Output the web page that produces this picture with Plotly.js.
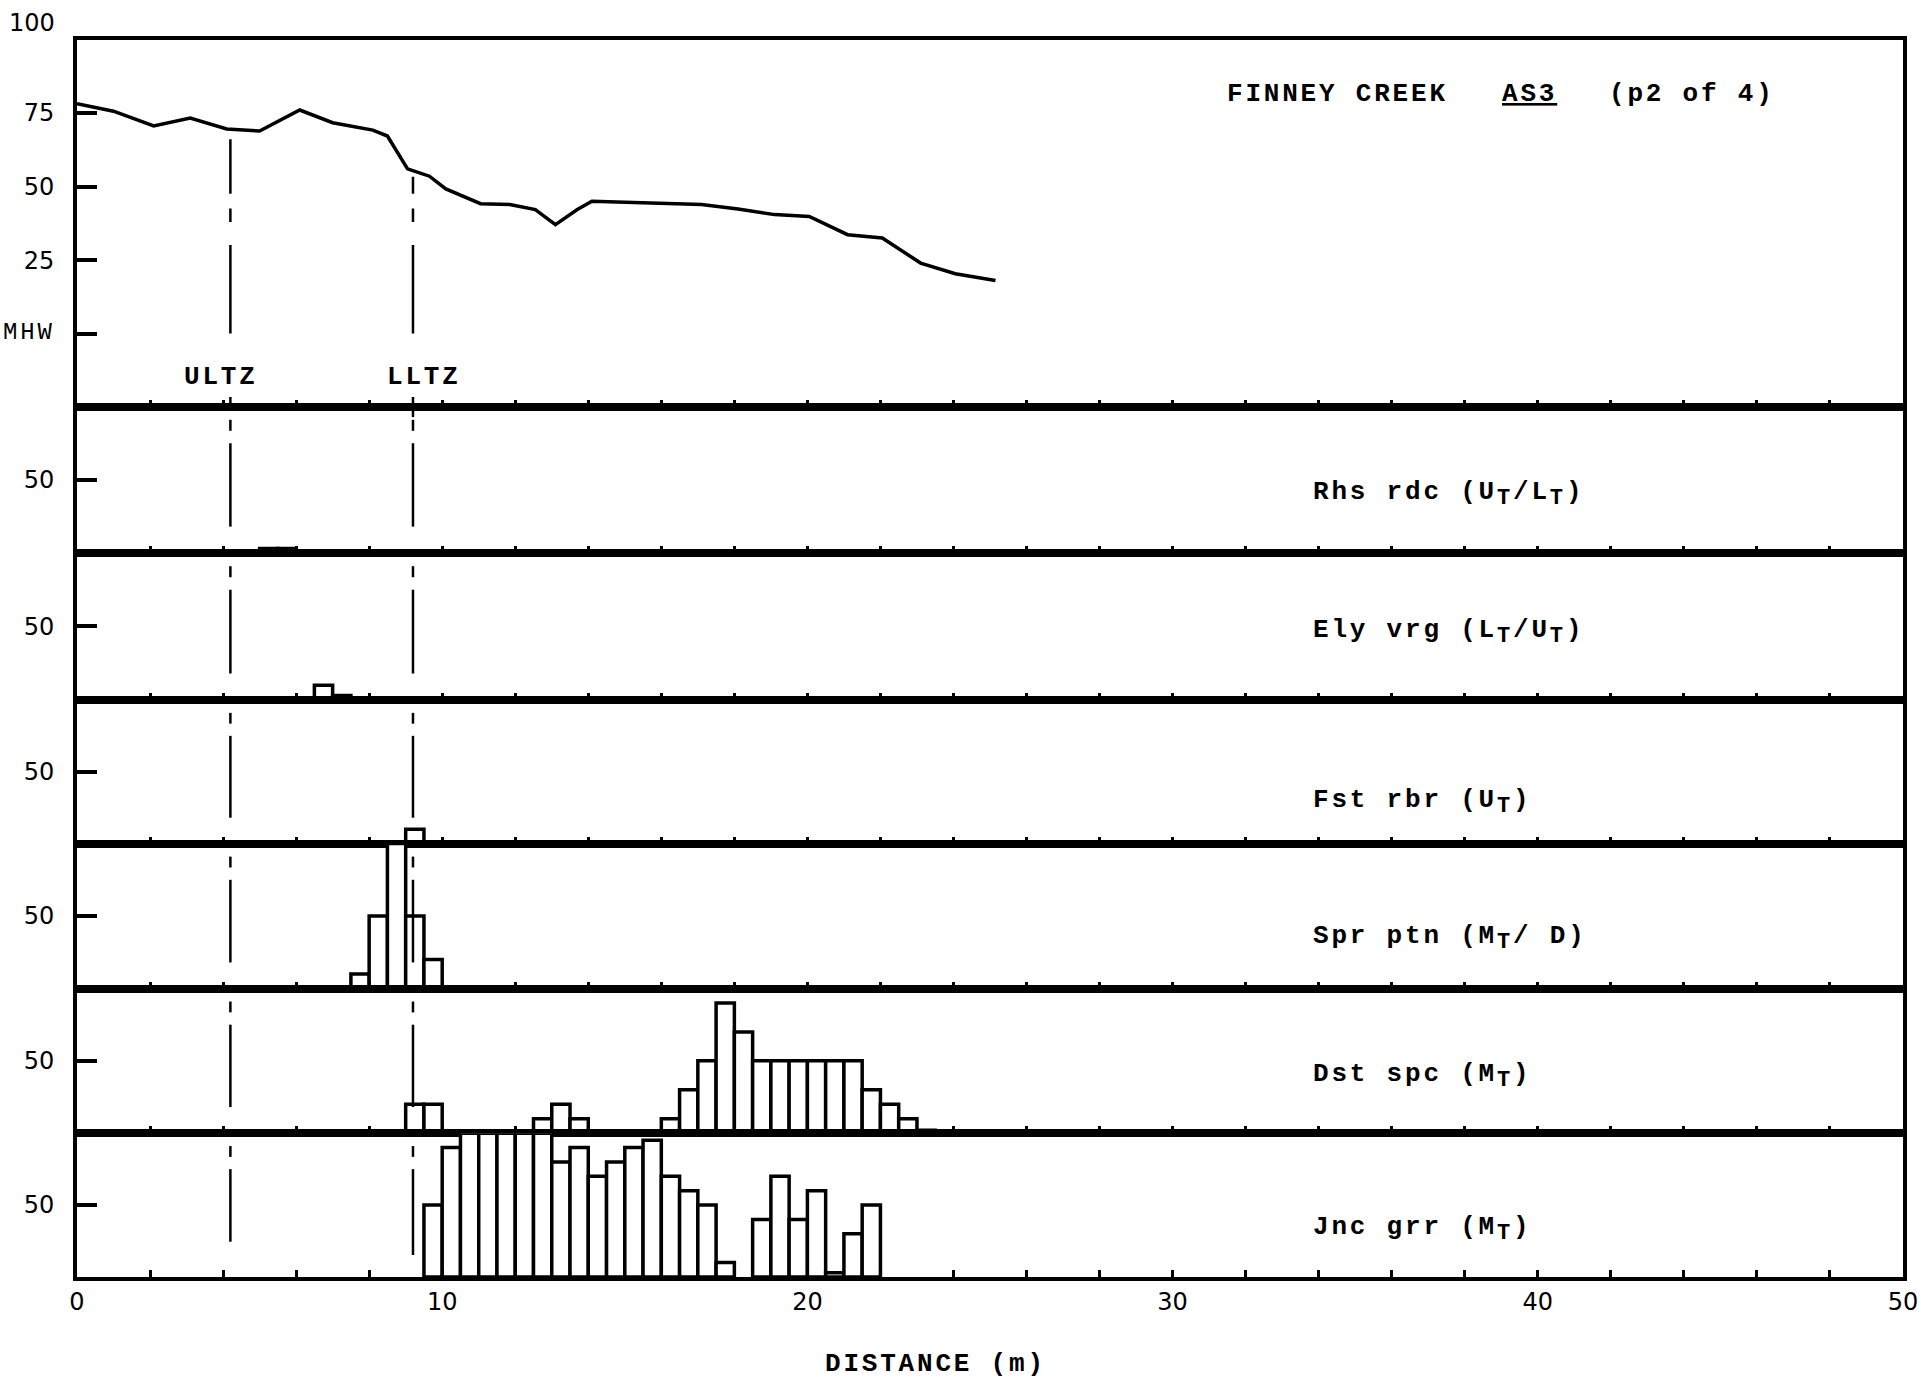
<!DOCTYPE html>
<html>
<head>
<meta charset="utf-8">
<script src="https://cdn.plot.ly/plotly-3.0.1.min.js"></script>
<style>
  html, body { margin: 0; padding: 0; background: #ffffff; }
  #chart { width: 1921px; height: 1380px; }
</style>
</head>
<body>
<div id="chart"></div>
<script>
// Marsh surface profile along transect AS3 (height scale relative to MHW)
const profileDistance = [0, 1.0, 2.1, 3.1, 4.1, 5.0, 6.1, 7.0, 8.1, 8.5, 9.05, 9.65, 10.1, 11.05, 11.85, 12.55, 13.1, 13.7, 14.1, 15.3, 17.1, 18.1, 19.1, 20.05, 21.1, 22.05, 23.1, 24.05, 25.15];
const profileHeight = [78, 75.5, 70.5, 73.2, 69.5, 68.8, 75.9, 71.6, 69.1, 67.1, 56, 53.5, 49.2, 44.2, 43.9, 42.2, 37.1, 42.2, 45, 44.5, 43.9, 42.4, 40.5, 39.9, 33.7, 32.6, 24.1, 20.5, 18.2];

// Zone boundaries (m)
const zoneNames = ['ULTZ', 'LLTZ'];
const zoneDistance = [4.2, 9.2];

// Species and their zone codes
const T = '<sub><span style="font-size:22px">T</span></sub>';
const speciesNames = ['Rhs rdc', 'Ely vrg', 'Fst rbr', 'Spr ptn', 'Dst spc', 'Jnc grr'];
const speciesZones = ['(U' + T + '/L' + T + ')', '(L' + T + '/U' + T + ')', '(U' + T + ')', '(M' + T + '/ D)', '(M' + T + ')', '(M' + T + ')'];

// Percent cover in 0.5 m quadrats (x = quadrat midpoint, m)
const rhsDistance = [5.25, 5.75];
const rhsCover = [3, 3];
const elyDistance = [6.75, 7.25];
const elyCover = [10, 3];
const fstDistance = [9.25];
const fstCover = [10];
const sprDistance = [7.75, 8.25, 8.75, 9.25, 9.75];
const sprCover = [10, 50, 100, 50, 20];
const dstDistance = [9.25, 9.75, 12.75, 13.25, 13.75, 16.25, 16.75, 17.25, 17.75, 18.25, 18.75, 19.25, 19.75, 20.25, 20.75, 21.25, 21.75, 22.25, 22.75, 23.25];
const dstCover = [20, 20, 10, 20, 10, 10, 30, 50, 90, 70, 50, 50, 50, 50, 50, 50, 30, 20, 10, 2];
const jncDistance = [9.75, 10.25, 10.75, 11.25, 11.75, 12.25, 12.75, 13.25, 13.75, 14.25, 14.75, 15.25, 15.75, 16.25, 16.75, 17.25, 17.75, 18.75, 19.25, 19.75, 20.25, 20.75, 21.25, 21.75];
const jncCover = [50, 90, 100, 100, 100, 100, 100, 80, 90, 70, 80, 90, 95, 70, 60, 50, 10, 40, 70, 40, 60, 3, 30, 50];

// Tick labels (the MHW datum is lettered separately)
const profileTickVals = [0, 25, 50, 75];
const profileTickText = ['', '25', '50', '75'];
const coverTickVals = [50];
const coverTickText = ['50'];

const coverDistance = [rhsDistance, elyDistance, fstDistance, sprDistance, dstDistance, jncDistance];
const coverValues = [rhsCover, elyCover, fstCover, sprCover, dstCover, jncCover];

const INK = '#000000';
const numFont = { family: 'DejaVu Sans, Liberation Sans, sans-serif', size: 24, color: INK };
const typeFont = { family: 'Liberation Mono, DejaVu Sans Mono, monospace', size: 26, color: INK, weight: 700 };
// typewriter pitch for the lettering
const typed = s => '<span style="letter-spacing:2.8px">' + s + '</span>';

// Stacked panels: profile on top, then six cover histograms
const domains = [[0.7036, 1], [0.5853, 0.7036], [0.4665, 0.5853], [0.3504, 0.4665], [0.2332, 0.3504], [0.1163, 0.2332], [0, 0.1163]];
const axId = i => (i === 0 ? '' : String(i + 1));

const traces = [{
  type: 'scatter', mode: 'lines',
  x: profileDistance, y: profileHeight,
  xaxis: 'x', yaxis: 'y',
  line: { color: INK, width: 3.5 },
  hoverinfo: 'skip', showlegend: false
}];

coverValues.forEach((vals, k) => {
  const id = axId(k + 1);
  traces.push({
    type: 'bar',
    x: coverDistance[k], y: vals,
    width: 0.5,
    xaxis: 'x' + id, yaxis: 'y' + id,
    marker: { color: '#ffffff', line: { color: INK, width: 3.5 } },
    hoverinfo: 'skip', showlegend: false
  });
});

const layout = {
  width: 1921, height: 1380,
  margin: { l: 77, r: 18, t: 40, b: 103 },
  paper_bgcolor: '#ffffff', plot_bgcolor: '#ffffff',
  showlegend: false,
  font: numFont,
  annotations: [],
  shapes: []
};

for (let i = 0; i < 7; i++) {
  const id = axId(i);
  layout['xaxis' + id] = {
    domain: [0, 1], anchor: 'y' + id, range: [0, 50],
    showline: true, linewidth: 4, linecolor: INK, mirror: true,
    showgrid: false, zeroline: false,
    ticks: 'inside', ticklen: 7, tickwidth: 3, tickcolor: INK,
    tick0: 0, dtick: 10,
    minor: { dtick: 2, ticks: 'inside', ticklen: 7, tickwidth: 3, tickcolor: INK, showgrid: false },
    showticklabels: i === 6,
    tickfont: numFont,
    fixedrange: true
  };
  if (i > 0) layout['xaxis' + id].matches = 'x';
  layout['yaxis' + id] = {
    domain: domains[i], anchor: 'x' + id,
    range: i === 0 ? [-24.5, 99.6] : [0, 100],
    showline: true, linewidth: 4, linecolor: INK, mirror: true,
    showgrid: false, zeroline: false,
    ticks: 'inside', ticklen: 20, tickwidth: 4, tickcolor: INK,
    tickmode: 'array',
    tickvals: i === 0 ? profileTickVals : coverTickVals,
    ticktext: i === 0 ? profileTickText : coverTickText,
    tickfont: numFont, ticklabelstandoff: 14,
    fixedrange: true
  };
}

// Top-left "100" sits above the frame corner; MHW marks the datum tick
layout.annotations.push({
  xref: 'paper', yref: 'paper', x: 0, y: 1, xanchor: 'right', yanchor: 'middle',
  xshift: -20, yshift: 17, text: '100', showarrow: false, font: numFont
});
layout.annotations.push({
  xref: 'paper', yref: 'y', x: 0, y: 0, xanchor: 'right', yanchor: 'middle',
  xshift: -20, yshift: 2, text: typed('MHW'), showarrow: false,
  font: { family: typeFont.family, size: 24, color: INK }
});

// Heading
const heading = [
  { x: 31.43, text: 'FINNEY CREEK' },
  { x: 38.97, text: '<u>AS3</u>' },
  { x: 41.89, text: '(p2 of 4)' }
];
heading.forEach(h => layout.annotations.push({
  xref: 'x', yref: 'y', x: h.x, y: 81.3, xanchor: 'left', yanchor: 'middle',
  text: typed(h.text), showarrow: false, font: typeFont
}));

// Zone boundary labels
const zoneLabelX = [zoneDistance[0] - 0.27, zoneDistance[1] + 0.3];
zoneNames.forEach((n, k) => layout.annotations.push({
  xref: 'x', yref: 'y', x: zoneLabelX[k], y: -14.4, xanchor: 'center', yanchor: 'middle',
  text: typed(n), showarrow: false, font: typeFont
}));

// Species labels inside each histogram panel
const speciesLabelY = [40.5, 46.3, 28.6, 34.6, 39.8, 33.5];
speciesNames.forEach((n, k) => {
  const id = axId(k + 1);
  layout.annotations.push({
    xref: 'x' + id, yref: 'y' + id, x: 33.79, y: speciesLabelY[k],
    xanchor: 'left', yanchor: 'middle',
    text: typed(n + ' ' + speciesZones[k]), showarrow: false, font: typeFont
  });
});

// Axis title
layout.annotations.push({
  xref: 'x7', yref: 'paper', x: 23.5, y: -0.0703, xanchor: 'center', yanchor: 'middle',
  text: typed('DISTANCE (m)'), showarrow: false, font: typeFont
});

// Dash-dot zone boundary lines running down through every panel
const seg = (xv, xref, yref, y0, y1) => layout.shapes.push({
  type: 'line', xref: xref, yref: yref, x0: xv, x1: xv, y0: y0, y1: y1,
  line: { color: INK, width: 2.5 }, layer: 'above'
});
zoneDistance.forEach((d, k) => {
  seg(d, 'x', 'y', k === 0 ? 66 : 53.3, 47.6);
  seg(d, 'x', 'y', 42.6, 38);
  seg(d, 'x', 'y', 30.2, 0.3);
  seg(d, 'x', 'paper', 0.7114, k === 0 ? 0.7009 : 0.6952);
  for (let p = 1; p < 7; p++) {
    const id = axId(p);
    seg(d, 'x' + id, 'y' + id + ' domain', 0.91, 0.835);
    const end = p === 6 ? (k === 0 ? 0.245 : 0.153) : 0.18;
    seg(d, 'x' + id, 'y' + id + ' domain', 0.75, end);
  }
});

Plotly.newPlot('chart', traces, layout, { displayModeBar: false, staticPlot: true });
</script>
</body>
</html>
